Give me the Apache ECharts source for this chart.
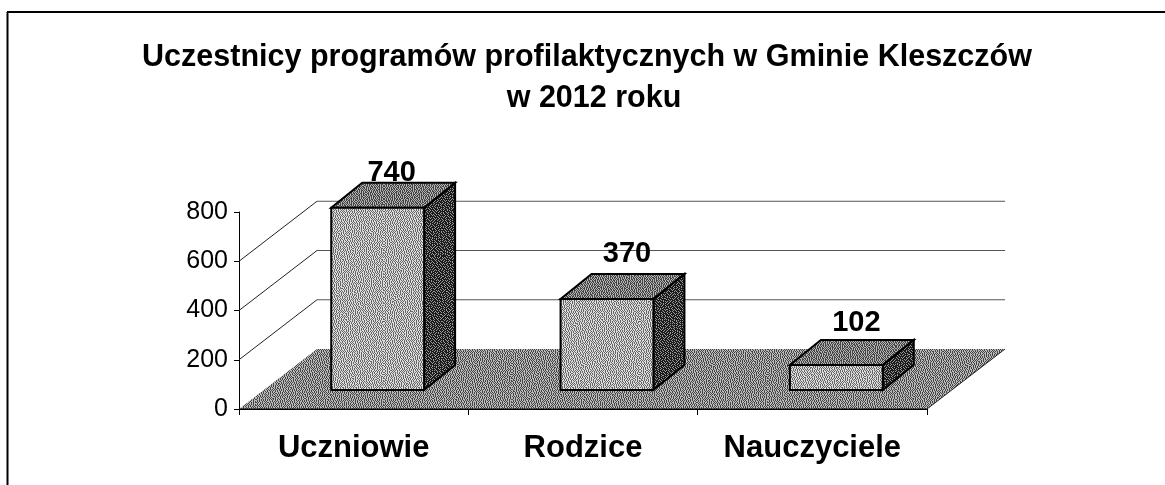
<!DOCTYPE html>
<html>
<head>
<meta charset="utf-8">
<style>
html,body{margin:0;padding:0;background:#fff}
#chart{width:1165px;height:485px}
</style>
<script src="https://cdn.jsdelivr.net/npm/echarts@6/dist/echarts.min.js"></script>
</head>
<body>
<div id="chart"></div>
<script>
var categories = ['Uczniowie', 'Rodzice', 'Nauczyciele'];
var values = [740, 370, 102];
var yTicks = [0, 200, 400, 600, 800];
var titleLines = ['Uczestnicy programów profilaktycznych w Gminie Kleszczów', 'w 2012 roku'];

var font = '"Liberation Sans", Arial, sans-serif';
// 3d look: how far the floor and the bars go back, in px
var floorDx = 78, floorDy = -60;
var insetDx = 24, insetDy = -19;
var barDx = 31, barDy = -25;
var labelDx = [14, 20, 20], labelDy = [-35, -45, -42];

// error diffusion on a flat grey, this gives the scanned halftone look
function dither(level, dark, light) {
    var n = 128, cells = [], i, x, y;
    for (i = 0; i < n * n; i++) cells.push(level + (((i * 7919) % 13) - 6) * 0.012);
    var c = document.createElement('canvas');
    c.width = c.height = n;
    var ctx = c.getContext('2d');
    for (y = 0; y < n; y++) {
        for (x = 0; x < n; x++) {
            var old = cells[y * n + x];
            var on = old > 0.5;
            var err = old - (on ? 1 : 0);
            ctx.fillStyle = on ? light : dark;
            ctx.fillRect(x, y, 1, 1);
            if (x + 1 < n) cells[y * n + x + 1] += err * 7 / 16;
            if (y + 1 < n) {
                if (x > 0) cells[(y + 1) * n + x - 1] += err * 3 / 16;
                cells[(y + 1) * n + x] += err * 5 / 16;
                if (x + 1 < n) cells[(y + 1) * n + x + 1] += err / 16;
            }
        }
    }
    return {image: c, repeat: 'repeat'};
}
var floorFill = dither(0.55, '#444', '#bbb');
var frontFill = dither(0.55, '#666', '#ddd');
var topFill = dither(0.45, '#444', '#b5b5b5');
var sideFill = dither(0.3, '#1a1a1a', '#999');

function poly(points, fill, line) {
    return {
        type: 'polygon',
        shape: {points: points},
        style: {fill: fill, stroke: line || null, lineWidth: line ? 2 : 0}
    };
}
function seg(x1, y1, x2, y2, color) {
    return {
        type: 'line',
        shape: {x1: x1, y1: y1, x2: x2, y2: y2},
        style: {stroke: color, lineWidth: 1}
    };
}

function renderWalls(params, api) {
    var sys = params.coordSys;
    var left = sys.x, right = sys.x + sys.width;
    var y0 = api.coord([0, 0])[1];
    var kids = [];
    yTicks.forEach(function (t) {
        if (t === 0 || t === yTicks[yTicks.length - 1]) return;
        var y = api.coord([0, t])[1];
        kids.push(seg(left, y, left + floorDx, y + floorDy, '#222'));
        kids.push(seg(left + floorDx, y + floorDy, right + floorDx, y + floorDy, '#555'));
    });
    kids.push(poly([[left, y0], [right, y0], [right + floorDx, y0 + floorDy], [left + floorDx, y0 + floorDy]], floorFill));
    kids.push(seg(left, y0, right, y0, '#000'));
    kids.push(seg(right, y0, right + floorDx, y0 + floorDy, '#222'));
    return {type: 'group', children: kids};
}

function renderBar(params, api) {
    var i = api.value(0), v = api.value(1);
    var top = api.coord([i, v]), base = api.coord([i, 0]);
    var w = api.size([1, 0])[0] * 0.405;
    var x1 = top[0] + insetDx - w / 2, x2 = x1 + w;
    var yb = base[1] + insetDy, yt = top[1] + insetDy;
    return {
        type: 'group',
        children: [
            poly([[x2, yb], [x2, yt], [x2 + barDx, yt + barDy], [x2 + barDx, yb + barDy]], sideFill, '#000'),
            poly([[x1, yt], [x2, yt], [x2 + barDx, yt + barDy], [x1 + barDx, yt + barDy]], topFill, '#000'),
            poly([[x1, yb], [x2, yb], [x2, yt], [x1, yt]], frontFill, '#000'),
            {
                type: 'text',
                style: {
                    text: String(v),
                    x: (x1 + x2) / 2 + labelDx[i],
                    y: yt + labelDy[i],
                    align: 'center',
                    verticalAlign: 'middle',
                    fontFamily: font,
                    fontWeight: 'bold',
                    fontSize: 29,
                    fill: '#000'
                }
            }
        ]
    };
}

var titleStyle = {
    fontFamily: font,
    fontWeight: 'bold',
    fontSize: 30.5,
    color: '#000'
};

var option = {
    animation: false,
    backgroundColor: '#fff',
    title: [
        {text: titleLines[0], left: 587, top: 42, textAlign: 'center', padding: 0, textStyle: titleStyle},
        {text: titleLines[1], left: 594, top: 83, textAlign: 'center', padding: 0, textStyle: titleStyle}
    ],
    grid: {left: 239, top: 212, width: 688, height: 197, containLabel: false},
    xAxis: {
        type: 'category',
        data: categories,
        boundaryGap: true,
        axisLine: {lineStyle: {color: '#000', width: 1}},
        axisTick: {show: true, length: 6, lineStyle: {color: '#000'}},
        axisLabel: {
            interval: 0,
            margin: 24,
            color: '#000',
            fontFamily: font,
            fontWeight: 'bold',
            fontSize: 31
        }
    },
    yAxis: {
        type: 'value',
        min: 0,
        max: yTicks[yTicks.length - 1],
        interval: 200,
        axisLine: {show: true, lineStyle: {color: '#000', width: 1}},
        axisTick: {show: true, length: 5, lineStyle: {color: '#000'}},
        splitLine: {show: false},
        axisLabel: {
            margin: 11,
            color: '#000',
            fontFamily: font,
            fontSize: 25
        }
    },
    graphic: [
        {type: 'line', shape: {x1: 7.5, y1: 12, x2: 7.5, y2: 485}, style: {stroke: '#000', lineWidth: 2}},
        {type: 'line', shape: {x1: 7, y1: 12, x2: 1165, y2: 12}, style: {stroke: '#000', lineWidth: 2}}
    ],
    series: [
        {type: 'custom', z: 1, renderItem: renderWalls, data: [[0, 0]], silent: true},
        {
            type: 'custom',
            z: 3,
            renderItem: renderBar,
            encode: {x: 0, y: 1},
            data: values.map(function (v, i) { return [i, v]; })
        }
    ]
};

var myChart = echarts.init(document.getElementById('chart'));
myChart.setOption(option);
</script>
</body>
</html>
